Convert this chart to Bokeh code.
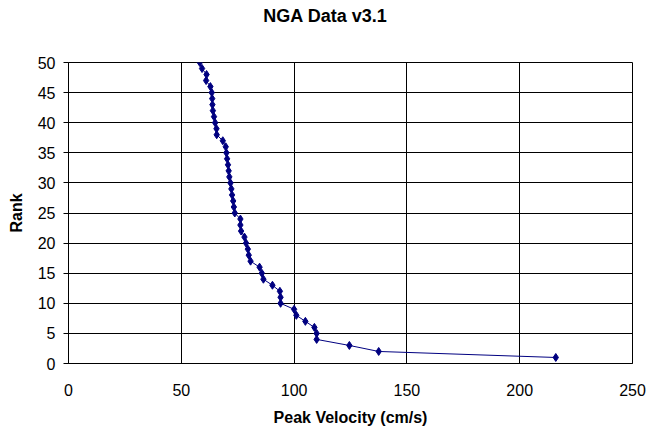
from bokeh.plotting import figure
from bokeh.embed import file_html
from bokeh.resources import INLINE
from bokeh.models import FixedTicker, Range1d, Div
from bokeh.layouts import column

rank = list(range(1, 51))
peak_velocity = [216, 137.5, 124.5, 110, 110, 109, 105, 101, 100, 94,
                 94, 93.7, 90.4, 86.4, 85.7, 84.7, 80.7, 79.9, 79.5, 78.7,
                 78, 76.5, 76.2, 76.2, 73.7, 73.3, 73, 72.5, 72.2, 71.8,
                 71.3, 71, 70.7, 70.3, 70, 69.7, 68.4, 65.7, 65.6, 65,
                 64.5, 64, 63.8, 63.7, 63.5, 62.9, 61, 61.2, 59.2, 58.2]
x_ticks = [0, 50, 100, 150, 200, 250]
y_ticks = [0, 5, 10, 15, 20, 25, 30, 35, 40, 45, 50]
title_text = "NGA Data v3.1"

FONT = "Liberation Sans"

title = Div(text=title_text, width=650, height=32, margin=(0, 0, 0, 0),
            styles={"font-family": FONT, "font-weight": "bold", "font-size": "18px",
                    "text-align": "center", "line-height": "32px", "color": "black",
                    "width": "650px"})

p = figure(width=650, height=396, output_backend="svg", toolbar_location=None,
           x_range=Range1d(0, 250), y_range=Range1d(0, 50),
           min_border_left=68, min_border_right=18, min_border_top=30, min_border_bottom=64,
           margin=(0, 0, 0, 0))

p.line(peak_velocity, rank, line_color="#000080", line_width=1)
p.scatter(peak_velocity, rank, marker="diamond", size=8, fill_color="#000080", line_color="#000080")

for ax in (p.xaxis[0], p.yaxis[0]):
    ax.axis_label_text_font = FONT
    ax.axis_label_text_font_style = "bold"
    ax.axis_label_text_font_size = "16px"
    ax.axis_label_text_color = "black"
    ax.major_label_text_font = FONT
    ax.major_label_text_font_size = "16px"
    ax.major_label_text_color = "black"
    ax.minor_tick_line_color = None
    ax.axis_line_color = "black"

p.xaxis.axis_label = "Peak Velocity (cm/s)"
p.yaxis.axis_label = "Rank"
p.xaxis.ticker = FixedTicker(ticks=x_ticks)
p.yaxis.ticker = FixedTicker(ticks=y_ticks)
p.xaxis.major_tick_line_color = None
p.xaxis.major_label_standoff = 14
p.xaxis.axis_label_standoff = 10
p.yaxis.major_tick_out = 5
p.yaxis.major_tick_in = 0
p.yaxis.major_tick_line_color = "black"
p.yaxis.major_label_standoff = 8
p.yaxis.axis_label_standoff = 10

p.xgrid.grid_line_color = "black"
p.ygrid.grid_line_color = "black"
p.xgrid.ticker = FixedTicker(ticks=x_ticks)
p.ygrid.ticker = FixedTicker(ticks=y_ticks)
p.outline_line_color = "black"
p.background_fill_color = "white"
p.border_fill_color = "white"

layout = column(title, p, spacing=0, margin=(0, 0, 0, 0))

open("out.html", "w").write(file_html(layout, INLINE))
